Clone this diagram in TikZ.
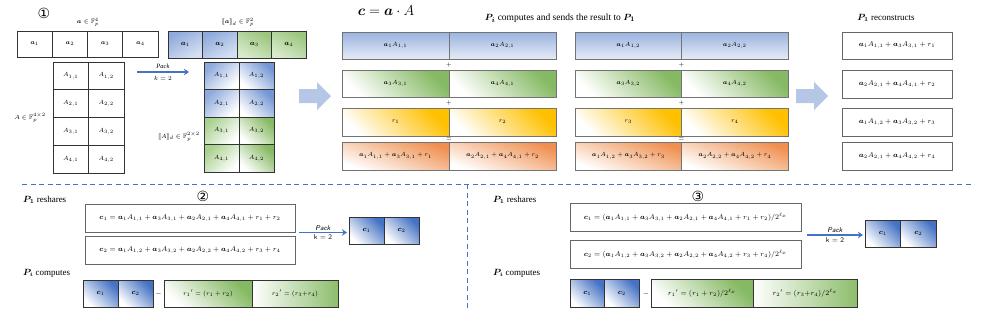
\documentclass[tikz,border=0pt]{standalone}
\usepackage{amsmath,amssymb,bm}
\usepackage{fontspec}
\setmainfont{Liberation Serif}
\newfontfamily\symfont{DejaVu Sans}
\usetikzlibrary{arrows.meta}
\definecolor{bluemid}{RGB}{143,170,220}
\definecolor{bluelight}{RGB}{180,199,231}
\definecolor{bluedark}{RGB}{68,114,196}
\definecolor{greenmid}{RGB}{169,209,142}
\definecolor{greendark}{RGB}{112,173,71}
\definecolor{yelloworg}{RGB}{255,192,0}
\definecolor{orangeacc}{RGB}{237,125,49}
\newcommand{\dbl}[1]{[\![#1]\!]}
\tikzset{
  lbl/.style={font=\fontsize{6.5}{7}\selectfont, inner sep=0.5pt},
  hdr/.style={font=\fontsize{9}{10}\selectfont, inner sep=1pt},
  numstyle/.style={font=\symfont\fontsize{14}{14}\selectfont, inner sep=0pt},
  mcell/.style={draw=black!80, line width=0.7pt, inner sep=0pt, font=\fontsize{6.5}{7}\selectfont},
  bcell/.style={draw=black!55, line width=1pt, inner sep=0pt, font=\fontsize{6}{7}\selectfont},
  wbox/.style={draw=black!60, line width=1pt, inner sep=0pt, fill=white},
  pcell/.style={draw=black!80, line width=0.8pt, inner sep=0pt, font=\fontsize{7}{8}\selectfont},
  opsym/.style={font=\fontsize{6}{6}\selectfont, inner sep=0pt},
  shblueA/.style={top color=bluemid, bottom color=bluelight!55, shading angle=30},
  shgreenA/.style={top color=greendark!70, bottom color=greenmid!45, shading angle=-30},
  shblueL/.style={top color=bluemid, bottom color=white, shading angle=45},
  shblueR/.style={top color=bluedark!75, bottom color=white, shading angle=-45},
  shgreenL/.style={top color=greenmid, bottom color=white, shading angle=45},
  shgreenR/.style={top color=greendark!85, bottom color=white, shading angle=-45},
  shrow1/.style={top color=bluemid!90, bottom color=bluelight!35},
  shrow2/.style={top color=greendark!85, bottom color=white, shading angle=-45},
  shrow3/.style={top color=yelloworg, bottom color=white, shading angle=-45},
  shrow4/.style={top color=orangeacc!85, bottom color=white, shading angle=-20},
  shc/.style={top color=bluedark, bottom color=white, shading angle=-45},
  shrp/.style={top color=greendark!85, bottom color=white, shading angle=-45},
  shrq/.style={left color=white, right color=greendark!80},
  packarrow/.style={draw=bluedark, line width=1.4pt, -{Stealth[length=5pt,width=6.5pt]}},
  bigarrow/.style={fill=bluelight},
  sep/.style={draw=bluedark, line width=1pt, dash pattern=on 5pt off 3.5pt},
}
\begin{document}
\begin{tikzpicture}[x=1pt,y=-1pt]
\useasboundingbox (0,0) rectangle (996,317);
% ---------------- section 1 ----------------
\node[numstyle] (n1) at (44,13) {①};
\node[lbl] (la) at (88,22.5) {$\bm{a}\in\mathbb{F}_p^4$};
\foreach \i/\cx in {1/34.6,2/69.9,3/105.1,4/140.4}
  \node[mcell, minimum width=35.25, minimum height=26] (a\i) at (\cx,44) {$\bm{a}_\i$};
\foreach \r/\cy in {1/75.9,2/103.6,3/131.4,4/159.1}{
  \node[mcell, minimum width=35.5, minimum height=27.75] (A\r1) at (70.75,\cy) {$A_{\r,1}$};
  \node[mcell, minimum width=35.5, minimum height=27.75] (A\r2) at (106.25,\cy) {$A_{\r,2}$};
}
\node[lbl] (lA) at (30,118) {$A\in\mathbb{F}_p^{4\times 2}$};
\coordinate (p1s) at (137,72);
\coordinate (p1e) at (189,72);
\draw[packarrow] (p1s) -- (p1e)
  node[midway, above=2pt, lbl] (pk1) {\textit{Pack}}
  node[midway, below=3pt, lbl] (kk1) {$k=2$};
\node[lbl] (lpa) at (238,22.5) {$\dbl{\bm{a}}_d\in\mathbb{F}_p^2$};
\node[pcell, shblueA, minimum width=34.5, minimum height=27] (pa1) at (185.25,44.5) {$\bm{a}_1$};
\node[pcell, shblueA, minimum width=34.5, minimum height=27] (pa2) at (219.75,44.5) {$\bm{a}_2$};
\node[pcell, shgreenA, minimum width=34.5, minimum height=27] (pa3) at (254.25,44.5) {$\bm{a}_3$};
\node[pcell, shgreenA, minimum width=34.5, minimum height=27] (pa4) at (288.75,44.5) {$\bm{a}_4$};
\node[mcell, shblueL, minimum width=35, minimum height=27.5] (pA11) at (221.5,75.75) {$A_{1,1}$};
\node[mcell, shblueR, minimum width=35, minimum height=27.5] (pA12) at (256.5,75.75) {$A_{1,2}$};
\node[mcell, shblueL, minimum width=35, minimum height=27.5] (pA21) at (221.5,103.25) {$A_{2,1}$};
\node[mcell, shblueR, minimum width=35, minimum height=27.5] (pA22) at (256.5,103.25) {$A_{2,2}$};
\node[mcell, shgreenL, minimum width=35, minimum height=27.5] (pA31) at (221.5,130.75) {$A_{3,1}$};
\node[mcell, shgreenR, minimum width=35, minimum height=27.5] (pA32) at (256.5,130.75) {$A_{3,2}$};
\node[mcell, shgreenL, minimum width=35, minimum height=27.5] (pA41) at (221.5,158.25) {$A_{4,1}$};
\node[mcell, shgreenR, minimum width=35, minimum height=27.5] (pA42) at (256.5,158.25) {$A_{4,2}$};
\node[lbl] (lpA) at (179,137) {$\dbl{A}_d\in\mathbb{F}_p^{2\times2}$};
% big arrow 1
\fill[bigarrow] (299,89) -- (317,89) -- (317,82) -- (331,96) -- (317,110) -- (317,103) -- (299,103) -- cycle;
% title and header
\node[font=\fontsize{14}{16}\selectfont, inner sep=0pt] (title) at (386,11) {$\bm{c}=\bm{a}\cdot A$};
\node[hdr, font=\fontsize{9.5}{10}\selectfont] (h1) at (560,18) {$\bm{P_i}$ computes and sends the result to $\bm{P_1}$};
% block 1
\node[bcell, shrow1, minimum width=107, minimum height=27] (b1a) at (395.5,45.5) {$\bm{a}_1A_{1,1}$};
\node[bcell, shrow1, minimum width=107, minimum height=27] (b1b) at (502.5,45.5) {$\bm{a}_2A_{2,1}$};
\node[bcell, shrow2, minimum width=107, minimum height=27] (b1c) at (395.5,83.5) {$\bm{a}_3A_{3,1}$};
\node[bcell, shrow2, minimum width=107, minimum height=27] (b1d) at (502.5,83.5) {$\bm{a}_4A_{4,1}$};
\node[bcell, shrow3, minimum width=107, minimum height=28] (b1e) at (395.5,122) {$r_1$};
\node[bcell, shrow3, minimum width=107, minimum height=28] (b1f) at (502.5,122) {$r_2$};
\node[bcell, shrow4, minimum width=107, minimum height=28] (b1g) at (395.5,156) {$\bm{a}_1A_{1,1}+\bm{a}_3A_{3,1}+r_1$};
\node[bcell, shrow4, minimum width=107, minimum height=28] (b1h) at (502.5,156) {$\bm{a}_2A_{2,1}+\bm{a}_4A_{4,1}+r_2$};
\node[opsym] (b1p1) at (449,64.5) {$+$};
\node[opsym] (b1p2) at (449,102.5) {$+$};
\node[opsym] (b1eq) at (449,139) {$=$};
% block 2
\node[bcell, shrow1, minimum width=106.5, minimum height=27] (b2a) at (628.25,45.5) {$\bm{a}_1A_{1,2}$};
\node[bcell, shrow1, minimum width=106.5, minimum height=27] (b2b) at (734.75,45.5) {$\bm{a}_2A_{2,2}$};
\node[bcell, shrow2, minimum width=106.5, minimum height=27] (b2c) at (628.25,83.5) {$\bm{a}_3A_{3,2}$};
\node[bcell, shrow2, minimum width=106.5, minimum height=27] (b2d) at (734.75,83.5) {$\bm{a}_4A_{4,2}$};
\node[bcell, shrow3, minimum width=106.5, minimum height=28] (b2e) at (628.25,122) {$r_3$};
\node[bcell, shrow3, minimum width=106.5, minimum height=28] (b2f) at (734.75,122) {$r_4$};
\node[bcell, shrow4, minimum width=106.5, minimum height=28] (b2g) at (628.25,156) {$\bm{a}_1A_{1,2}+\bm{a}_3A_{3,2}+r_3$};
\node[bcell, shrow4, minimum width=106.5, minimum height=28] (b2h) at (734.75,156) {$\bm{a}_2A_{2,2}+\bm{a}_4A_{4,2}+r_4$};
\node[opsym] (b2p1) at (681.5,64.5) {$+$};
\node[opsym] (b2p2) at (681.5,102.5) {$+$};
\node[opsym] (b2eq) at (681.5,139) {$=$};
% big arrow 2
\fill[bigarrow] (796,89) -- (814,89) -- (814,82) -- (828,96) -- (814,110) -- (814,103) -- (796,103) -- cycle;
% P1 reconstructs
\node[hdr] (h2) at (886,18) {$\bm{P_1}$ reconstructs};
\node[wbox, font=\fontsize{7}{8}\selectfont, minimum width=110, minimum height=27] (r1) at (897,45.5) {$\bm{a}_1A_{1,1}+\bm{a}_3A_{3,1}+r_1$};
\node[wbox, font=\fontsize{7}{8}\selectfont, minimum width=110, minimum height=28] (r2) at (897,84) {$\bm{a}_2A_{2,1}+\bm{a}_4A_{4,1}+r_2$};
\node[wbox, font=\fontsize{7}{8}\selectfont, minimum width=110, minimum height=28] (r3) at (897,122) {$\bm{a}_1A_{1,2}+\bm{a}_3A_{3,2}+r_3$};
\node[wbox, font=\fontsize{7}{8}\selectfont, minimum width=110, minimum height=28] (r4) at (897,156) {$\bm{a}_2A_{2,1}+\bm{a}_4A_{4,2}+r_4$};
% separators
\coordinate (hs) at (22,184);
\coordinate (he) at (973,184);
\coordinate (vs) at (467,184);
\coordinate (ve) at (467,308);
\draw[sep] (hs) -- (he);
\draw[sep] (vs) -- (ve);
% ---------------- section 2 ----------------
\node[numstyle] (n2) at (203,196) {②};
\node[hdr, anchor=west] (s2a) at (22,200) {$\bm{P_1}$ reshares};
\node[wbox, font=\fontsize{7.2}{9}\selectfont, minimum width=210, minimum height=28] (s2c1) at (190,218)
  {$\bm{c}_1=\bm{a}_1A_{1,1}+\bm{a}_3A_{3,1}+\bm{a}_2A_{2,1}+\bm{a}_4A_{4,1}+r_1+r_2$};
\node[wbox, font=\fontsize{7.2}{9}\selectfont, minimum width=210, minimum height=28] (s2c2) at (190,250)
  {$\bm{c}_2=\bm{a}_1A_{1,2}+\bm{a}_3A_{3,2}+\bm{a}_2A_{2,2}+\bm{a}_4A_{4,2}+r_3+r_4$};
\coordinate (p2s) at (299,232.5);
\coordinate (p2e) at (347,232.5);
\draw[packarrow] (p2s) -- (p2e)
  node[midway, above=1pt, lbl, font=\sffamily\itshape\fontsize{7}{8}\selectfont] (pk2) {Pack}
  node[midway, below=1pt, lbl, font=\sffamily\fontsize{7}{8}\selectfont] (kk2) {k = 2};
\node[pcell, shc, minimum width=35, minimum height=27] (s2pc1) at (366.5,230.5) {$\bm{c}_1$};
\node[pcell, shc, minimum width=35, minimum height=27] (s2pc2) at (401.5,230.5) {$\bm{c}_2$};
\node[hdr, anchor=west] (s2b) at (22,273) {$\bm{P_i}$ computes};
\node[pcell, shc, minimum width=35, minimum height=27] (s2bc1) at (100.5,293.5) {$\bm{c}_1$};
\node[pcell, shc, minimum width=35, minimum height=27] (s2bc2) at (135.5,293.5) {$\bm{c}_2$};
\node[opsym, font=\fontsize{7}{7}\selectfont] (s2m) at (158.5,294) {$-$};
\node[pcell, shrp, font=\fontsize{6.2}{7}\selectfont, minimum width=88, minimum height=27] (s2r1) at (208,293.5) {$r_1{}'=(r_1+r_2)$};
\node[pcell, shrq, font=\fontsize{6.2}{7}\selectfont, minimum width=86, minimum height=27] (s2r2) at (295,293.5) {$r_2{}'=(r_3{+}r_4)$};
% ---------------- section 3 ----------------
\node[numstyle] (n3) at (698,196) {③};
\node[hdr, anchor=west] (s3a) at (492,200) {$\bm{P_1}$ reshares};
\node[wbox, font=\fontsize{7.2}{9}\selectfont, minimum width=231, minimum height=28] (s3c1) at (685.5,217)
  {$\bm{c}_1=(\bm{a}_1A_{1,1}+\bm{a}_3A_{3,1}+\bm{a}_2A_{2,1}+\bm{a}_4A_{4,1}+r_1+r_2)/2^{\ell_x}$};
\node[wbox, font=\fontsize{7.2}{9}\selectfont, minimum width=231, minimum height=27.5] (s3c2) at (685.5,254.5)
  {$\bm{c}_2=(\bm{a}_1A_{1,2}+\bm{a}_3A_{3,2}+\bm{a}_2A_{2,2}+\bm{a}_4A_{4,2}+r_3+r_4)/2^{\ell_x}$};
\coordinate (p3s) at (807,235);
\coordinate (p3e) at (863,235);
\draw[packarrow] (p3s) -- (p3e)
  node[midway, above=1pt, lbl, font=\sffamily\itshape\fontsize{7}{8}\selectfont] (pk3) {Pack}
  node[midway, below=1pt, lbl, font=\sffamily\fontsize{7}{8}\selectfont] (kk3) {k = 2};
\node[pcell, shc, minimum width=35.5, minimum height=27] (s3pc1) at (882.75,233.5) {$\bm{c}_1$};
\node[pcell, shc, minimum width=35.5, minimum height=27] (s3pc2) at (918.25,233.5) {$\bm{c}_2$};
\node[hdr, anchor=west] (s3b) at (492,273) {$\bm{P_i}$ computes};
\node[pcell, shc, minimum width=34.5, minimum height=28] (s3bc1) at (587.25,293.5) {$\bm{c}_1$};
\node[pcell, shc, minimum width=34.5, minimum height=28] (s3bc2) at (621.75,293.5) {$\bm{c}_2$};
\node[opsym, font=\fontsize{7}{7}\selectfont] (s3m) at (646,294) {$-$};
\node[pcell, shrp, minimum width=102, minimum height=28] (s3r1) at (702,293.5) {$r_1{}'=(r_1+r_2)/2^{\ell_x}$};
\node[pcell, shrq, minimum width=104, minimum height=28] (s3r2) at (805,293.5) {$r_2{}'=(r_3{+}r_4)/2^{\ell_x}$};
\end{tikzpicture}
\end{document}
